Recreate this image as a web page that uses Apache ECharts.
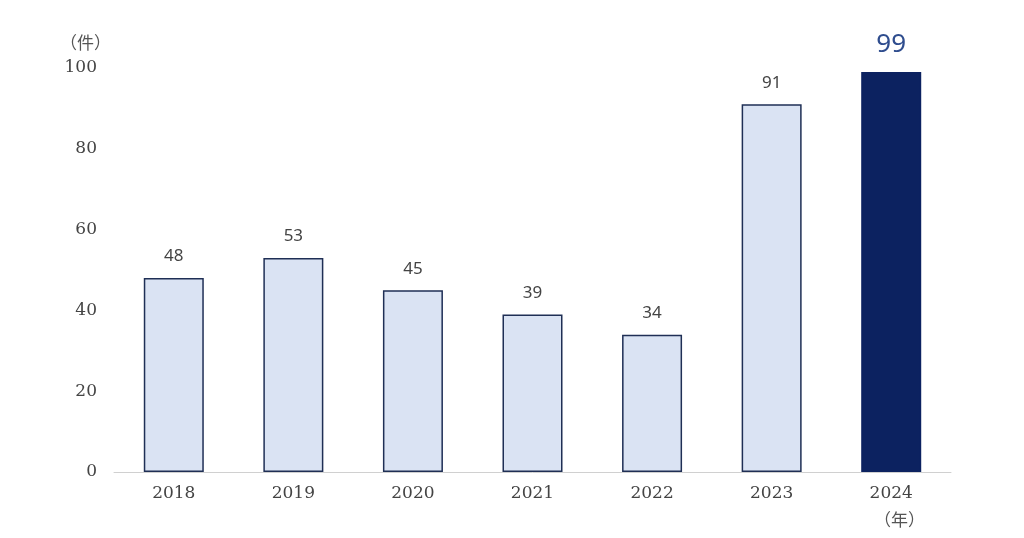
<!DOCTYPE html>
<html><head><meta charset="utf-8">
<script src="https://cdn.jsdelivr.net/npm/echarts@6/dist/echarts.min.js"></script>
<style>html,body{margin:0;padding:0;background:#fff}#c{width:1024px;height:538px}</style>
</head><body><div id="c"></div>
<script>
var categories = ['2018','2019','2020','2021','2022','2023','2024'];
var values = [48, 53, 45, 39, 34, 91, 99];
var yTicks = [0, 20, 40, 60, 80, 100];
var unitY = '（件）';
var unitX = '（年）';

var chart = echarts.init(document.getElementById('c'));
var last = values.length - 1;
var data = values.map(function (v, i) {
  if (i === last) {
    return {
      value: v,
      itemStyle: { color: '#0c2260', borderColor: '#0c2260' },
      label: { color: '#2f4d8e', fontSize: 26, distance: 14, fontFamily: 'Noto Sans' }
    };
  }
  return v;
});
chart.setOption({
  animation: false,
  grid: { left: 114, right: 73, top: 68, bottom: 66 },
  xAxis: {
    type: 'category', data: categories,
    axisLine: { lineStyle: { color: '#d0d0d0', width: 1 } },
    axisTick: { show: false },
    axisLabel: { color: '#444', fontSize: 17, fontFamily: 'DejaVu Serif', margin: 13 }
  },
  yAxis: {
    type: 'value', min: yTicks[0], max: yTicks[yTicks.length - 1], interval: 20,
    splitLine: { show: false },
    axisLine: { show: false }, axisTick: { show: false },
    axisLabel: { color: '#444', fontSize: 17, fontFamily: 'DejaVu Serif', margin: 17 }
  },
  graphic: [
    { type: 'text', left: 60, top: 34, style: { text: unitY, fill: '#555', font: '17px "Noto Sans CJK JP"' } },
    { type: 'text', left: 874, top: 511, style: { text: unitX, fill: '#555', font: '17px "Noto Sans CJK JP"' } }
  ],
  series: [{
    type: 'bar', data: data, barWidth: 60,
    itemStyle: { color: '#dae3f3', borderColor: '#1f2f55', borderWidth: 1.5 },
    label: { show: true, position: 'top', distance: 13, color: '#444', fontSize: 17, fontFamily: 'Noto Sans' }
  }]
});
</script></body></html>
